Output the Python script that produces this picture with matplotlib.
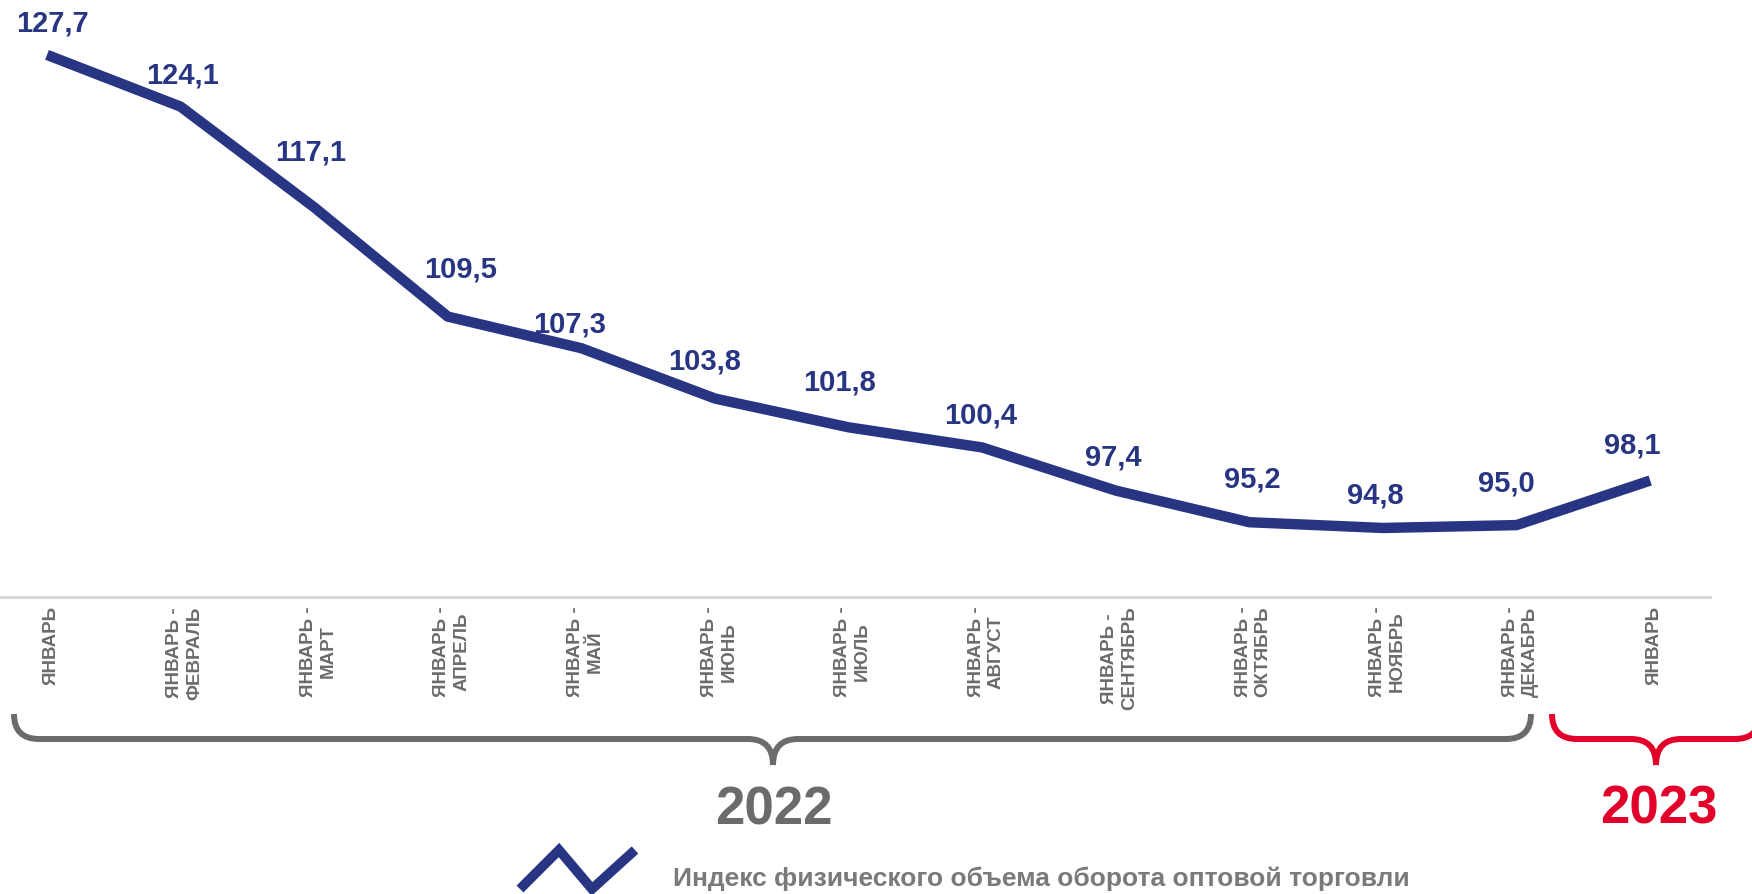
import numpy as np
import matplotlib
matplotlib.use("Agg")
import matplotlib.pyplot as plt
import matplotlib.transforms as mtransforms
from matplotlib.path import Path
from matplotlib.patches import PathPatch
from matplotlib.lines import Line2D

plt.rcParams['font.family'] = ['Liberation Sans', 'DejaVu Sans']

# data
categories = ["ЯНВАРЬ", "ЯНВАРЬ -\nФЕВРАЛЬ", "ЯНВАРЬ -\nМАРТ", "ЯНВАРЬ -\nАПРЕЛЬ",
              "ЯНВАРЬ -\nМАЙ", "ЯНВАРЬ -\nИЮНЬ", "ЯНВАРЬ -\nИЮЛЬ", "ЯНВАРЬ -\nАВГУСТ",
              "ЯНВАРЬ -\nСЕНТЯБРЬ", "ЯНВАРЬ -\nОКТЯБРЬ", "ЯНВАРЬ -\nНОЯБРЬ",
              "ЯНВАРЬ -\nДЕКАБРЬ", "ЯНВАРЬ"]
values = [127.7, 124.1, 117.1, 109.5, 107.3, 103.8, 101.8, 100.4, 97.4, 95.2, 94.8, 95.0, 98.1]
years = ["2022", "2023"]
series_name = "Индекс физического объема оборота оптовой торговли"

# label offsets in pixels (dx, dy) relative to the point
label_off = [(5, 32), (2, 32), (-4, 56), (13, 48), (-12, 25), (-10, 38), (-9, 46),
             (-2, 33), (-2, 34), (3, 44), (-8, 33), (-10, 43), (-18, 36)]

NAVY = "#283583"
GREY = "#6b6b6b"
RED = "#e2002a"

W, H = 1752, 895
fig = plt.figure(figsize=(W / 100, H / 100), dpi=100)
ax = fig.add_axes([0, (H - 598) / H, 1710 / W, 598 / H])

x = np.arange(len(values))
ax.plot(x, values, color=NAVY, lw=7.5, solid_capstyle='butt', solid_joinstyle='round')
ax.set_xlim(-47 / 133.6, (1710 - 47) / 133.6)
ax.set_ylim(90, 90 + 598 / 14.38)

px = 72 / 100
for xi, v, (dx, dy) in zip(x, values, label_off):
    ax.annotate(f"{v:.1f}".replace(".", ","), (xi, v), xytext=(dx * px, dy * px),
                textcoords="offset points", ha="center", va="center",
                fontsize=21, fontweight="bold", color=NAVY)

for s in ["top", "right", "left"]:
    ax.spines[s].set_visible(False)
ax.spines["bottom"].set_color("#d9d9d9")
ax.spines["bottom"].set_linewidth(2.2)
ax.set_yticks([])
ax.set_xticks(x)
ax.set_xticklabels(categories, rotation=90, fontsize=13.5, fontweight="bold",
                   color=GREY, multialignment="center", linespacing=1.2)
ax.tick_params(axis="x", length=0, pad=6)
shift = mtransforms.ScaledTranslation(4 / 100, 0, fig.dpi_scale_trans)
for lab in ax.get_xticklabels():
    lab.set_transform(lab.get_transform() + shift)


def brace(x0, x1, xm, ytop, yline, ytip, color):
    r = yline - ytop
    pts = [(x0, ytop), (x0, yline), (x0 + r, yline),
           (xm - r, yline), (xm, yline), (xm, ytip),
           (xm, yline), (xm + r, yline),
           (x1 - r, yline), (x1, yline), (x1, ytop)]
    codes = [Path.MOVETO, Path.CURVE3, Path.CURVE3,
             Path.LINETO, Path.CURVE3, Path.CURVE3,
             Path.CURVE3, Path.CURVE3,
             Path.LINETO, Path.CURVE3, Path.CURVE3]
    pts = [(px_ / W, 1 - py_ / H) for px_, py_ in pts]
    fig.add_artist(PathPatch(Path(pts, codes), transform=fig.transFigure,
                             fill=False, edgecolor=color, lw=4.3, capstyle='butt'))


brace(14, 1531, 773, 715, 740, 766, GREY)
brace(1552, 1760, 1656, 715, 740, 766, RED)

fig.text(774 / W, 1 - 811 / H, years[0], ha="center", va="center",
         fontsize=38, fontweight="bold", color=GREY)
fig.text(1659 / W, 1 - 810 / H, years[1], ha="center", va="center",
         fontsize=38, fontweight="bold", color=RED)

# legend
icon_x = [520, 559, 592, 635]
icon_y = [890, 851, 890, 851]
fig.add_artist(Line2D([v / W for v in icon_x], [1 - v / H for v in icon_y],
                      transform=fig.transFigure, color=NAVY, lw=7,
                      solid_capstyle='butt', solid_joinstyle='miter'))
fig.text(673 / W, 1 - 879 / H, series_name, ha="left", va="center",
         fontsize=19, fontweight="bold", color="#7a7a7a")

fig.savefig("out.png", dpi=100)
